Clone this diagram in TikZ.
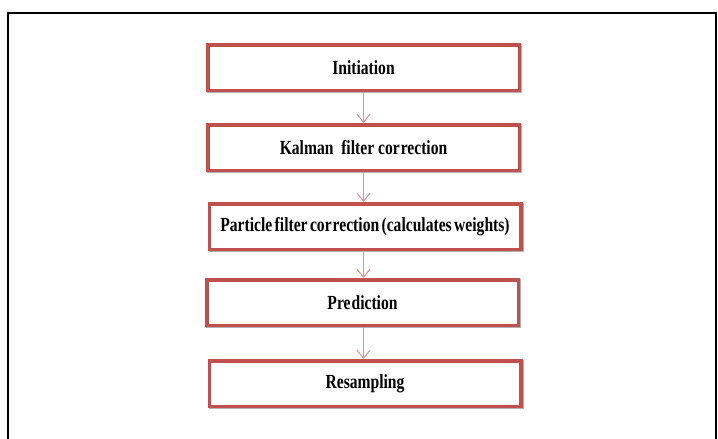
\documentclass[tikz,border=0pt]{standalone}
\usepackage{fontspec}
\setmainfont{Liberation Serif}[FakeStretch=0.78]
\usetikzlibrary{arrows.meta}
\definecolor{boxred}{HTML}{C0504D}
\definecolor{arrred}{HTML}{D99594}
\tikzset{
  stepbox/.style={draw=boxred, line width=3.5pt, fill=white, rectangle,
    minimum width=311.5pt, minimum height=45.5pt, inner sep=0pt,
    font=\fontsize{20}{22}\selectfont\bfseries,
    preaction={draw=black!30, line width=3.5pt, transform canvas={shift={(1pt,-1pt)}}}},
  flow/.style={draw=arrred, line width=1pt, -{Straight Barb[length=8pt,width=13pt]}}
}
\begin{document}
\begin{tikzpicture}[x=1pt,y=-1pt]
\useasboundingbox (0,0) rectangle (718,439);
\fill[white] (0,0) rectangle (718,439);
\draw[black, line width=2pt] (8,439) -- (8,13) -- (716,13) -- (716,439);
\node[stepbox] (b1) at (363.5,67.5) {Initiation};
\node[stepbox] (b2) at (363.5,147.5) {Kalman\ \ filter cor\kern0.05em rection};
\node[stepbox] (b3) at (365,226.5) {\spaceskip=0.12em Particle filter cor\kern0.05em rection (calculates weights)};
\node[stepbox] (b4) at (362.5,302.5) {Pre\kern0.05em diction};
\node[stepbox] (b5) at (365,383.5) {Resampling};
\draw[flow] (b1.south) -- (b1.south |- b2.north);
\draw[flow] (b1.south |- b2.south) -- (b1.south |- b3.north);
\draw[flow] (b1.south |- b3.south) -- (b1.south |- b4.north);
\draw[flow] (b1.south |- b4.south) -- (b1.south |- b5.north);
\end{tikzpicture}
\end{document}
